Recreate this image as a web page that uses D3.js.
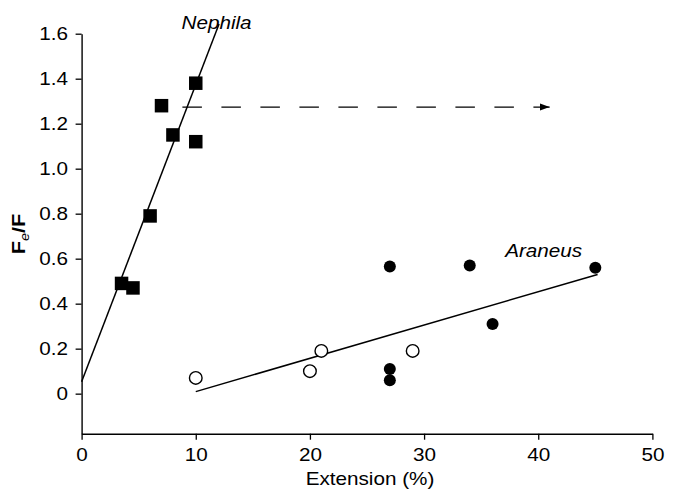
<!DOCTYPE html>
<html>
<head>
<meta charset="utf-8">
<script src="https://cdn.jsdelivr.net/npm/d3@7"></script>
<style>
  html, body { margin: 0; padding: 0; background: #fff; }
  svg { display: block; font-family: "Liberation Sans", Arial, sans-serif; }
</style>
</head>
<body>
<svg id="chart" width="678" height="493"></svg>
<script>
// Nephila (filled squares)
var nephilaX = [3.5, 4.5, 6, 7, 8, 10, 10];
var nephilaY = [0.49, 0.47, 0.79, 1.28, 1.15, 1.38, 1.12];

// Araneus, open circles
var araneusOpenX = [10, 20, 21, 29];
var araneusOpenY = [0.07, 0.10, 0.19, 0.19];

// Araneus, filled circles
var araneusFillX = [27, 34, 45, 36, 27, 27];
var araneusFillY = [0.565, 0.57, 0.56, 0.31, 0.11, 0.06];

// fitted lines (end points)
var nephilaFitX = [0, 12.04];
var nephilaFitY = [0.053, 1.643];
var araneusFitX = [10, 45.2];
var araneusFitY = [0.009, 0.53];

// dashed arrow
var arrowX = [8.83, 41];
var arrowY = [1.274, 1.274];

var xTicks = [0, 10, 20, 30, 40, 50];
var yTicks = [0, 0.2, 0.4, 0.6, 0.8, 1.0, 1.2, 1.4, 1.6];

var STRETCH = 1.15;   // reference type is drawn a bit wide

var svg = d3.select('#chart');
var margin = {left: 81.6, top: 33.7, right: 678 - 652.4, bottom: 493 - 433.7};
var W = 678 - margin.left - margin.right,
    H = 493 - margin.top - margin.bottom;

var x = d3.scaleLinear().domain([0, 50]).range([0, W]);
var y = d3.scaleLinear().domain([-0.178, 1.6]).range([H, 0]);

var g = svg.append('g').attr('transform', 'translate(' + margin.left + ',' + margin.top + ')');

function stretch(sel) {
    sel.each(function () {
        var t = d3.select(this);
        var tx = +t.attr('x') || 0, ty = +t.attr('y') || 0;
        t.attr('x', 0).attr('y', 0)
         .attr('transform', 'translate(' + tx + ',' + ty + ') scale(' + STRETCH + ',1)');
    });
}

function zip(xs, ys) {
    return xs.map(function (v, i) { return [v, ys[i]]; });
}

// axes
var xAxis = g.append('g').attr('transform', 'translate(0,' + H + ')')
    .call(d3.axisBottom(x).tickValues(xTicks).tickSize(6).tickPadding(9).tickSizeOuter(0));
var yAxis = g.append('g')
    .call(d3.axisLeft(y).tickValues(yTicks).tickSize(6).tickPadding(7.5).tickSizeOuter(0)
        .tickFormat(function (d) { return d === 0 ? '0' : d3.format('.1f')(d); }));

[xAxis, yAxis].forEach(function (a) {
    a.select('.domain').attr('stroke', '#000').attr('stroke-width', 1.4);
    a.selectAll('.tick line').attr('stroke', '#000').attr('stroke-width', 1.3);
    a.selectAll('.tick text').attr('font-size', 18).attr('fill', '#000')
        .attr('font-family', '"Liberation Sans", Arial, sans-serif');
    stretch(a.selectAll('.tick text'));
});

// axis titles
var xt = g.append('text')
    .attr('x', W / 2 + 3).attr('y', H + 51.5)
    .attr('text-anchor', 'middle').attr('font-size', 18)
    .text('Extension (%)');
stretch(xt);

var yt = svg.append('text')
    .attr('transform', 'translate(25,234) rotate(-90) scale(1.2,1)')
    .attr('text-anchor', 'middle').attr('font-size', 18).attr('font-weight', 'bold');
yt.append('tspan').text('F');
yt.append('tspan').attr('font-size', 12).attr('font-weight', 'normal').attr('font-style', 'italic')
    .attr('dy', 4).text('e');
yt.append('tspan').attr('dy', -4).text('/F');

// fit lines
var line = d3.line().x(function (d) { return x(d[0]); }).y(function (d) { return y(d[1]); });

g.append('path').datum(zip(nephilaFitX, nephilaFitY))
    .attr('d', line).attr('fill', 'none').attr('stroke', '#000').attr('stroke-width', 1.5);
g.append('path').datum(zip(araneusFitX, araneusFitY))
    .attr('d', line).attr('fill', 'none').attr('stroke', '#000').attr('stroke-width', 1.5);

// dashed arrow
svg.append('defs').append('marker')
    .attr('id', 'arrow').attr('markerUnits', 'userSpaceOnUse')
    .attr('viewBox', '0 -4 10 8').attr('refX', 10).attr('refY', 0)
    .attr('markerWidth', 10).attr('markerHeight', 8).attr('orient', 'auto')
  .append('path').attr('d', 'M0,-3.6L10,0L0,3.6Z').attr('fill', '#000');

g.append('path').datum(zip(arrowX, arrowY))
    .attr('d', line).attr('fill', 'none').attr('stroke', '#000').attr('stroke-width', 1.3)
    .attr('stroke-dasharray', '19.5,19.5').attr('marker-end', 'url(#arrow)');

// points
var sq = 13.5;
g.selectAll('rect.neph').data(zip(nephilaX, nephilaY)).enter().append('rect')
    .attr('class', 'neph')
    .attr('x', function (d) { return x(d[0]) - sq / 2; })
    .attr('y', function (d) { return y(d[1]) - sq / 2; })
    .attr('width', sq).attr('height', sq).attr('fill', '#000');

g.selectAll('circle.afill').data(zip(araneusFillX, araneusFillY)).enter().append('circle')
    .attr('class', 'afill')
    .attr('cx', function (d) { return x(d[0]); })
    .attr('cy', function (d) { return y(d[1]); })
    .attr('r', 6).attr('fill', '#000');

g.selectAll('circle.aopen').data(zip(araneusOpenX, araneusOpenY)).enter().append('circle')
    .attr('class', 'aopen')
    .attr('cx', function (d) { return x(d[0]); })
    .attr('cy', function (d) { return y(d[1]); })
    .attr('r', 6.3).attr('fill', '#fff').attr('stroke', '#000').attr('stroke-width', 1.4);

// species labels
var nl = g.append('text')
    .attr('x', x(8.75)).attr('y', y(1.62))
    .attr('font-size', 18).attr('font-style', 'italic').text('Nephila');
stretch(nl);
var al = g.append('text')
    .attr('x', x(37.1)).attr('y', y(0.609))
    .attr('font-size', 18).attr('font-style', 'italic').text('Araneus');
stretch(al);
</script>
</body>
</html>
